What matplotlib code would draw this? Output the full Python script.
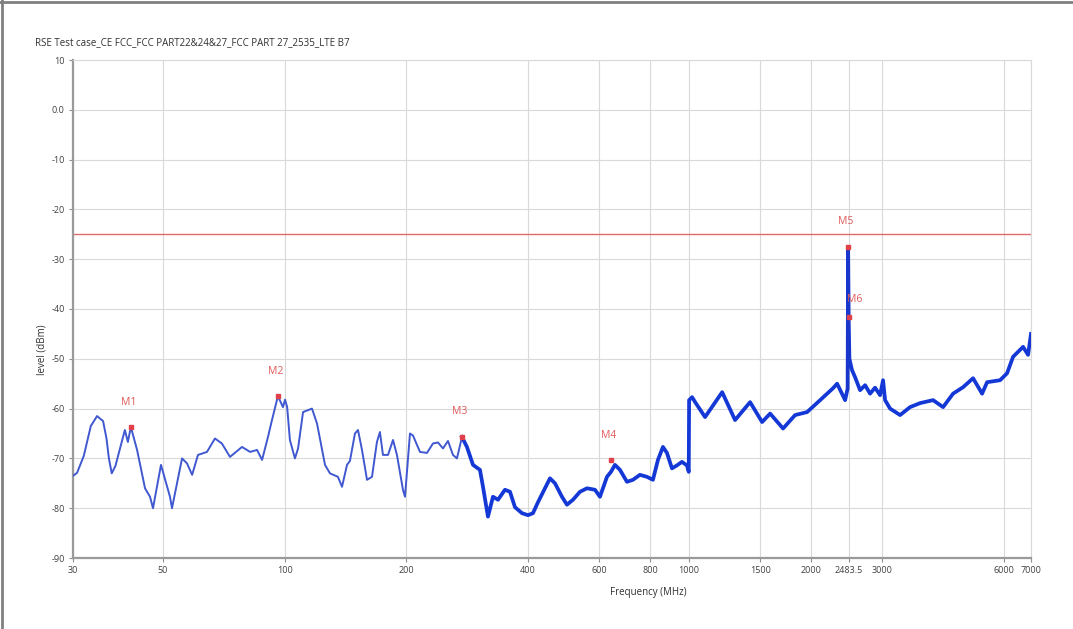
import numpy as np
import matplotlib
matplotlib.use("Agg")
import matplotlib.pyplot as plt
from matplotlib.lines import Line2D

plt.rcParams["font.family"] = ["Open Sans", "DejaVu Sans"]

# %% data ---------------------------------------------------------------------
title = "RSE Test case_CE FCC_FCC PART22&24&27_FCC PART 27_2535_LTE B7"

freq_mhz = [
    30.0, 30.7, 31.9, 33.2, 34.4, 35.6, 36.3, 36.8, 37.4, 38.2, 40.3, 41.0,
    41.7, 43.2, 45.2, 46.5, 47.3, 49.5, 52.1, 52.7, 55.8, 57.4, 59.1, 61.1,
    64.3, 67.3, 70.0, 73.3, 78.5, 82.2, 85.5, 88.0, 91.0, 93.1, 96.3, 99.1,
    100.3, 101.5, 103.1, 106.1, 108.0, 111.1, 116.9, 120.3, 125.9, 129.5,
    135.5, 138.7, 142.7, 145.1, 149.3, 151.9, 155.4, 159.9, 164.5, 169.2,
    172.1, 175.1, 180.2, 185.4, 189.6, 196.2, 198.5, 204.2, 207.7, 216.2,
    224.9, 232.8, 239.5, 246.4, 253.5, 260.8, 266.8, 274.5, 282.4, 292.3,
    304.1, 309.4, 318.3, 327.5, 337.0, 350.6, 360.8, 371.2, 386.3, 399.7,
    411.2, 423.1, 440.3, 453.0, 466.1, 485.0, 499.0, 516.4, 537.3, 559.2,
    585.2, 602.1, 626.6, 641.0, 655.7, 674.7, 702.1, 726.5, 755.9, 786.7,
    814.0, 837.5, 861.6, 881.6, 907.0, 933.2, 960.0, 987.8, 998.0, 1000.0,
    1017, 1035, 1095, 1207, 1299, 1415, 1515, 1586, 1707, 1828, 1957, 2108,
    2269, 2322, 2430, 2465, 2472, 2480, 2490, 2528, 2572, 2646, 2723, 2801,
    2882, 2965, 3016, 3051, 3139, 3323, 3517, 3723, 4009, 4244, 4492, 4756,
    5034, 5299, 5452, 5870, 6109, 6321, 6691, 6884, 7000,
]
level_dbm = [
    -73.5, -72.9, -69.5, -63.5, -61.5, -62.5, -66.0, -70.0, -73.0, -71.5,
    -64.3, -66.7, -63.7, -68.3, -76.0, -77.7, -80.0, -71.3, -77.7, -80.0,
    -70.0, -71.0, -73.3, -69.3, -68.7, -66.0, -67.0, -69.7, -67.7, -68.7,
    -68.3, -70.3, -65.7, -62.3, -57.5, -59.7, -58.2, -59.7, -66.3, -70.0,
    -68.0, -60.7, -60.0, -63.0, -71.3, -73.0, -73.7, -75.7, -71.3, -70.5,
    -65.0, -64.3, -68.3, -74.3, -73.7, -66.7, -64.7, -69.3, -69.3, -66.3,
    -69.3, -76.3, -77.7, -65.0, -65.4, -68.7, -68.9, -67.0, -66.8, -68.0,
    -66.5, -69.3, -70.0, -65.7, -67.7, -71.3, -72.3, -75.7, -81.7, -77.7,
    -78.3, -76.3, -76.7, -79.8, -81.0, -81.4, -81.0, -78.8, -76.0, -74.0,
    -75.0, -77.7, -79.3, -78.3, -76.7, -76.0, -76.3, -77.7, -73.7, -72.7,
    -71.3, -72.3, -74.7, -74.3, -73.3, -73.7, -74.3, -70.3, -67.7, -68.9,
    -72.0, -71.4, -70.7, -71.4, -72.7, -58.3, -57.7, -58.7, -61.7, -56.7,
    -62.3, -58.7, -62.7, -61.0, -64.0, -61.3, -60.7, -58.3, -55.9, -55.0,
    -58.3, -56.0, -27.5, -42.0, -50.0, -52.3, -53.7, -56.3, -55.3, -57.0,
    -55.8, -57.3, -54.3, -58.3, -60.0, -61.3, -59.7, -58.9, -58.3, -59.7,
    -57.0, -55.7, -53.9, -57.0, -54.7, -54.3, -52.9, -49.6, -47.6, -49.2,
    -45.0,
]

marker_names = ["M1", "M2", "M3", "M4", "M5", "M6"]
marker_freq = [41.7, 96.3, 274.5, 641.0, 2472, 2480]
marker_level = [-63.7, -57.5, -65.7, -70.4, -27.5, -41.6]

limit_dbm = -25

xtick_vals = [30, 50, 100, 200, 400, 600, 800, 1000, 1500, 2000, 2483.5, 3000, 6000, 7000]
xtick_labels = ["30", "50", "100", "200", "400", "600", "800", "1000", "1500",
                "2000", "2483.5", "3000", "6000", "7000"]
ytick_vals = [10, 0, -10, -20, -30, -40, -50, -60, -70, -80, -90]
ytick_labels = ["10", "0.0", "-10", "-20", "-30", "-40", "-50", "-60", "-70", "-80", "-90"]

# %% figure -------------------------------------------------------------------
W, H = 1073, 629
fig = plt.figure(figsize=(W / 100, H / 100), dpi=100)
ax = fig.add_axes([73 / W, 1 - 558 / H, (1031 - 73) / W, (558 - 60) / H])

f = np.array(freq_mhz)
lv = np.array(level_dbm)
thin = f <= 292.3
thick = f >= 274.5
spike = (f >= 2465) & (f <= 2490)
ax.plot(f[thin], lv[thin], color="#4058d0", lw=1.4, zorder=3)
ax.plot(f[thick], lv[thick], color="#1438d6", lw=2.7, zorder=3,
        solid_joinstyle="round")
ax.plot(f[spike], lv[spike], color="#1a36c8", lw=1.6, zorder=3)

ax.axhline(limit_dbm, color="#e06a6a", lw=1.0, zorder=2)

ax.plot(marker_freq, marker_level, "s", color="#e0404a", ms=3, zorder=4)
for name, mf, ml in zip(marker_names, marker_freq, marker_level):
    dx, dy = (6, 17) if name == "M6" else (-2, 25)
    ax.annotate(name, (mf, ml), xytext=(dx, dy), textcoords="offset pixels",
                ha="center", va="center", fontsize=7.5, color="#e05a5a")

ax.set_xscale("log")
ax.set_xlim(30, 7000)
ax.set_ylim(-90, 10)
ax.set_xticks(xtick_vals)
ax.set_xticklabels(xtick_labels)
ax.minorticks_off()
ax.set_yticks(ytick_vals)
ax.set_yticklabels(ytick_labels)
ax.tick_params(labelsize=6.5, colors="#404040", length=3, width=0.8,
               color="#909090", pad=3)
ax.grid(True, color="#d9d9d9", lw=0.8, zorder=0)
ax.set_axisbelow(True)

for side in ["left", "bottom"]:
    ax.spines[side].set_color("#9a9a9a")
    ax.spines[side].set_linewidth(1.6)
for side in ["top", "right"]:
    ax.spines[side].set_color("#d9d9d9")
    ax.spines[side].set_linewidth(0.8)

fig.text(35 / W, 1 - 43 / H, title, fontsize=7, color="#303030",
         ha="left", va="center")
fig.text(648 / W, 1 - 593 / H, "Frequency (MHz)", fontsize=7, color="#303030",
         ha="center", va="center")
fig.text(42 / W, 1 - 350 / H, "level (dBm)", fontsize=7, color="#303030",
         ha="center", va="center", rotation=90)

# window border of the screenshot
fig.add_artist(Line2D([0, 1], [1 - 1.5 / H, 1 - 1.5 / H], color="#808080", lw=2))
fig.add_artist(Line2D([1.5 / W, 1.5 / W], [0, 1], color="#808080", lw=2))

fig.savefig("out.png", dpi=100)
